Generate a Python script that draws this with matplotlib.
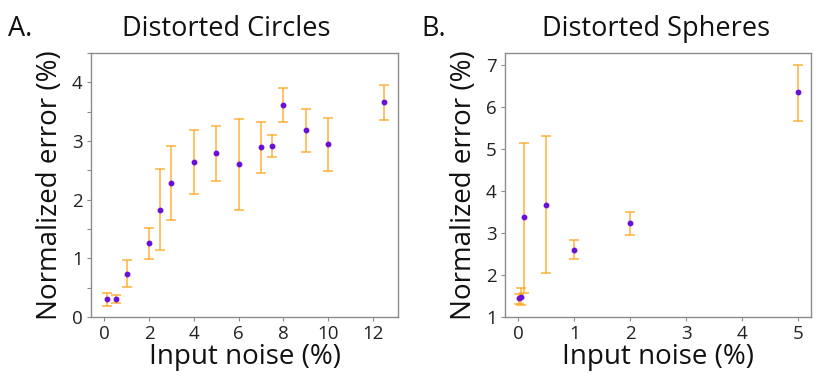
import matplotlib
matplotlib.use("Agg")
import matplotlib.pyplot as plt
from matplotlib.ticker import MultipleLocator

plt.rcParams['font.family'] = ['Open Sans', 'DejaVu Sans']

# Distorted circles
circ_x = [0.1, 0.5, 1, 2, 2.5, 3, 4, 5, 6, 7, 7.5, 8, 9, 10, 12.5]
circ_y = [0.30, 0.31, 0.74, 1.26, 1.82, 2.29, 2.64, 2.79, 2.60, 2.90, 2.91, 3.62, 3.19, 2.95, 3.66]
circ_hi = [0.41, 0.37, 0.97, 1.51, 2.53, 2.91, 3.18, 3.25, 3.38, 3.33, 3.10, 3.90, 3.55, 3.40, 3.95]
circ_lo = [0.18, 0.23, 0.51, 0.99, 1.14, 1.66, 2.10, 2.32, 1.83, 2.46, 2.72, 3.33, 2.82, 2.49, 3.36]

# Distorted spheres
sph_x = [0.01, 0.05, 0.1, 0.5, 1, 2, 5]
sph_y = [1.44, 1.48, 3.37, 3.67, 2.60, 3.23, 6.34]
sph_hi = [1.54, 1.68, 5.15, 5.30, 2.82, 3.49, 7.00]
sph_lo = [1.32, 1.28, 1.58, 2.04, 2.38, 2.96, 5.67]

fig = plt.figure(figsize=(8.3, 3.81), dpi=100)
ax1 = fig.add_axes([0.1096, 0.168, 0.370, 0.693])
ax2 = fig.add_axes([0.6084, 0.168, 0.369, 0.693])


def draw_panel(ax, x, y, lo, hi):
    yerr = [[v - l for v, l in zip(y, lo)], [h - v for v, h in zip(y, hi)]]
    ax.errorbar(x, y, yerr=yerr, fmt='none', ecolor='#ffa620', elinewidth=1.2,
                capsize=3.5, capthick=1.2, alpha=0.8, zorder=2)
    ax.plot(x, y, 'o', color='#6a0fd8', markersize=3.2, zorder=3)
    for s in ax.spines.values():
        s.set_color('#8c8c8c')
        s.set_linewidth(1.0)
    ax.tick_params(which='both', direction='out', length=3, width=0.8,
                   color='#8c8c8c', labelsize=13.5, labelcolor='#222222', pad=3)
    ax.set_xlabel('Input noise (%)', fontsize=20, color='#111111', labelpad=0)
    ax.set_ylabel('Normalized error (%)', fontsize=20, color='#111111', labelpad=6)


draw_panel(ax1, circ_x, circ_y, circ_lo, circ_hi)
ax1.set_xlim(-0.6, 13.13)
ax1.set_ylim(0, 4.5)
ax1.xaxis.set_major_locator(MultipleLocator(2))
ax1.yaxis.set_major_locator(MultipleLocator(1))
ax1.yaxis.set_minor_locator(MultipleLocator(0.5))

draw_panel(ax2, sph_x, sph_y, sph_lo, sph_hi)
ax2.set_xlim(-0.24, 5.24)
ax2.set_ylim(1, 7.28)
ax2.xaxis.set_major_locator(MultipleLocator(1))
ax2.yaxis.set_major_locator(MultipleLocator(1))

fig.text(0.273, 0.905, 'Distorted Circles', fontsize=19.5, ha='center', va='baseline', color='#111111')
fig.text(0.790, 0.905, 'Distorted Spheres', fontsize=19.5, ha='center', va='baseline', color='#111111')
fig.text(0.010, 0.905, 'A.', fontsize=19.5, ha='left', va='baseline', color='#111111')
fig.text(0.508, 0.905, 'B.', fontsize=19.5, ha='left', va='baseline', color='#111111')

fig.savefig('out.png', dpi=100)
